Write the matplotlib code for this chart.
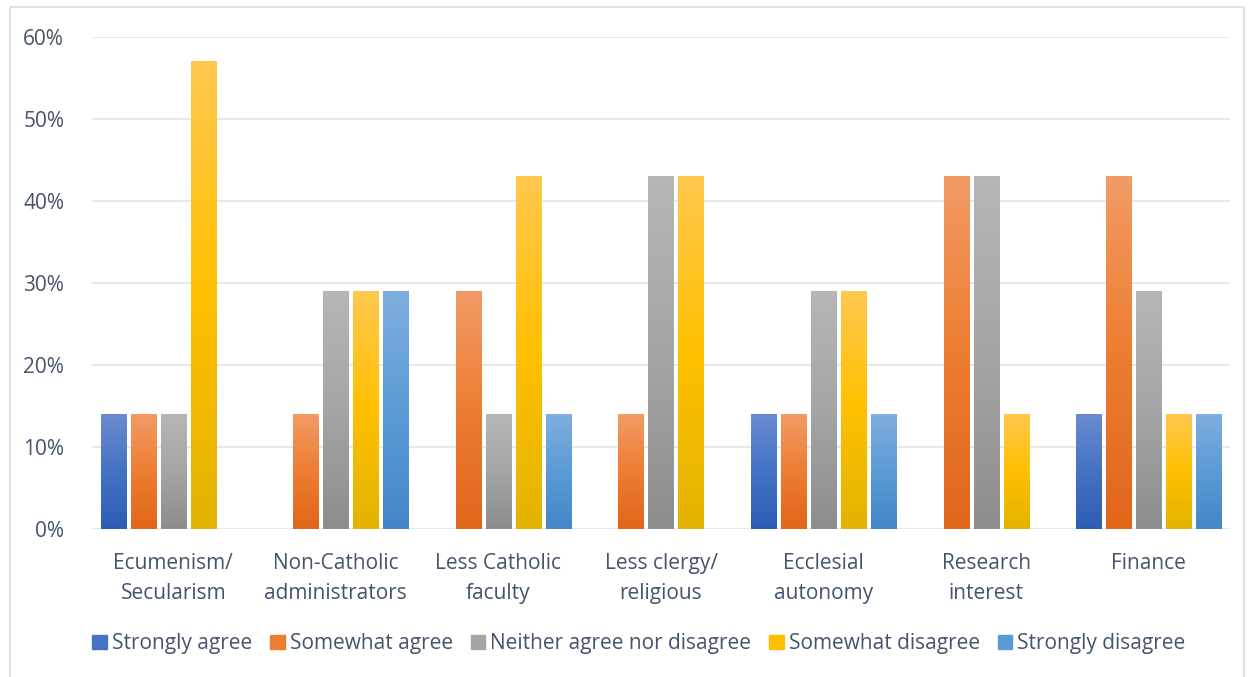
import numpy as np
import matplotlib.pyplot as plt
from matplotlib.colors import LinearSegmentedColormap
from matplotlib.patches import Patch, Rectangle

plt.rcParams['font.family'] = ['Open Sans', 'DejaVu Sans']

categories = ["Ecumenism/\nSecularism", "Non-Catholic\nadministrators", "Less Catholic\nfaculty",
              "Less clergy/\nreligious", "Ecclesial\nautonomy", "Research\ninterest", "Finance"]
series = ["Strongly agree", "Somewhat agree", "Neither agree nor disagree",
          "Somewhat disagree", "Strongly disagree"]
strongly_agree = [14, 0, 0, 0, 14, 0, 14]
somewhat_agree = [14, 14, 29, 14, 14, 43, 43]
neither = [14, 29, 14, 43, 29, 43, 29]
somewhat_disagree = [57, 29, 43, 43, 29, 14, 14]
strongly_disagree = [0, 29, 14, 0, 14, 0, 14]
values = [strongly_agree, somewhat_agree, neither, somewhat_disagree, strongly_disagree]

# gradient stops: top, middle, bottom
grads = [("#6A8BD0", "#4472C4", "#2E5DB5"),
         ("#F29B66", "#ED7D31", "#E0661A"),
         ("#B6B6B6", "#A5A5A5", "#8D8D8D"),
         ("#FFC84F", "#FFC000", "#E3B300"),
         ("#7FAEE0", "#5B9BD5", "#4387C9")]
base_colors = [g[1] for g in grads]

txt = "#44546A"
grid_c = "#E0E4EA"

fig = plt.figure(figsize=(12.48, 6.77), dpi=100)
ax = fig.add_axes([0.0737, 0.2186, 0.9119, 0.7267])

x = np.arange(len(categories))
step = 0.1845
width = 0.154
for i, (vals, g) in enumerate(zip(values, grads)):
    cmap = LinearSegmentedColormap.from_list("g%d" % i, [g[2], g[1], g[0]])
    for j, v in enumerate(vals):
        if v <= 0:
            continue
        xc = x[j] + (i - 2) * step
        grad = np.linspace(0, 1, 256).reshape(-1, 1)
        ax.imshow(grad, cmap=cmap, aspect='auto', origin='lower',
                  extent=[xc - width / 2, xc + width / 2, 0, v / 100], zorder=3)

ax.set_xlim(-0.5, len(categories) - 0.5)
ax.set_ylim(0, 0.6)
ax.set_yticks(np.arange(0, 0.61, 0.1))
ax.set_yticklabels(["%d%%" % t for t in range(0, 61, 10)])
ax.set_xticks(x)
ax.set_xticklabels(categories, linespacing=1.6)
ax.grid(axis='y', color=grid_c, linewidth=1.2, zorder=0)
ax.set_axisbelow(True)
for s in ax.spines.values():
    s.set_visible(False)
ax.tick_params(length=0, labelsize=15, colors=txt)
ax.tick_params(axis='x', pad=17)
ax.tick_params(axis='y', pad=20)

handles = [Patch(color=c) for c in base_colors]
fig.legend(handles, series, loc='center', bbox_to_anchor=(0.512, 0.049), ncol=5,
           frameon=False, fontsize=15, labelcolor=txt, handlelength=0.7,
           handleheight=0.7, handletextpad=0.25, columnspacing=0.85)

fig.add_artist(Rectangle((10 / 1248, -0.01), 1234 / 1248, 1 - 7 / 677 + 0.01,
                         transform=fig.transFigure, fill=False,
                         edgecolor="#D9DDE5", linewidth=1.2))

fig.savefig("out.png", dpi=100)
